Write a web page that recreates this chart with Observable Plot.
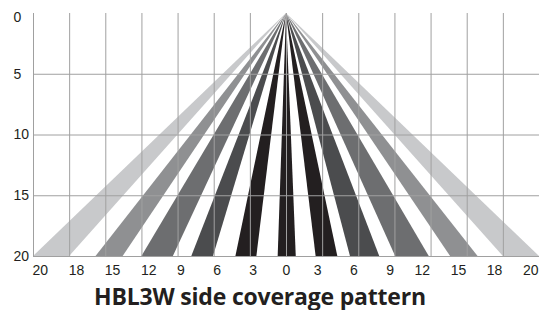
<!DOCTYPE html>
<html>
<head>
<meta charset="utf-8">
<script src="https://cdn.jsdelivr.net/npm/d3@7"></script>
<script src="https://cdn.jsdelivr.net/npm/@observablehq/plot@0.6"></script>
<style>
  html, body { margin: 0; padding: 0; background: #fff; }
  #wrap { width: 539px; }
  #title { font-family: "Open Sans", Roboto, sans-serif; font-weight: 700; font-size: 23px; line-height: 27px; color: #231f20; text-align: center; padding-right: 19px; margin-top: 3px; letter-spacing: -0.2px; }
</style>
</head>
<body>
<div id="wrap">
  <div id="chart"></div>
  <div id="title">HBL3W side coverage pattern</div>
</div>
<script>
// Tick positions (grid index) and their printed labels
const xTickPositions = [-7, -6, -5, -4, -3, -2, -1, 0, 1, 2, 3, 4, 5, 6, 7];
const xTickLabels = ["20", "18", "15", "12", "9", "6", "3", "0", "3", "6", "9", "12", "15", "18", "20"];
const yTicks = [0, 5, 10, 15, 20];

// Coverage wedges: apex at (0, 0), spreading to these edges at distance 20
const wedgeLeft  = [-7.0, -5.27, -4.0, -2.62, -1.4, -0.23, 0.82, 1.77, 3.02, 4.54, 6.0];
const wedgeRight = [-6.0, -4.52, -3.13, -2.02, -0.82, 0.27, 1.42, 2.58, 3.95, 5.3, 7.0];
const wedgeTier  = [5, 4, 3, 2, 1, 1, 1, 2, 3, 4, 5];
const apexDepth = 0;
const farDepth = 20;

const wedgePoints = [];
wedgeLeft.forEach((l, i) => {
  wedgePoints.push({id: i, tier: wedgeTier[i], y: apexDepth, x1: 0, x2: 0});
  wedgePoints.push({id: i, tier: wedgeTier[i], y: farDepth, x1: l, x2: wedgeRight[i]});
});

const labelOf = d => xTickLabels[xTickPositions.indexOf(d)];
const leftTicks = xTickPositions.filter(d => d < 0);
const rightTicks = xTickPositions.filter(d => d > 0);
const centerTicks = xTickPositions.filter(d => d === 0);

const plot = Plot.plot({
  width: 539,
  height: 280,
  marginLeft: 33,
  marginRight: 0,
  marginTop: 13,
  marginBottom: 24,
  style: {fontFamily: "'Liberation Sans', Arial, sans-serif", fontSize: "14px", color: "#231f20", background: "#fff"},
  x: {domain: [-7, 7], label: null},
  y: {domain: [0, 20], reverse: true, label: null},
  color: {type: "ordinal", domain: [1, 2, 3, 4, 5], range: ["#231f20", "#4b4c4e", "#6d6e70", "#8f9092", "#c8c9cb"]},
  marks: [
    Plot.areaX(wedgePoints, {y: "y", x1: "x1", x2: "x2", z: "id", fill: "tier"}),
    Plot.gridX(xTickPositions, {stroke: "#a0a0a0", strokeOpacity: 1, strokeWidth: 1}),
    Plot.gridY([5, 10, 15, 20], {stroke: "#a0a0a0", strokeOpacity: 1, strokeWidth: 1}),
    Plot.axisX({ticks: leftTicks, tickFormat: labelOf, tickSize: 0, tickPadding: 9, textAnchor: "start", dx: -1, label: null}),
    Plot.axisX({ticks: centerTicks, tickFormat: labelOf, tickSize: 0, tickPadding: 9, textAnchor: "middle", label: null}),
    Plot.axisX({ticks: rightTicks, tickFormat: labelOf, tickSize: 0, tickPadding: 9, textAnchor: "end", dx: -1, label: null}),
    Plot.axisY({ticks: yTicks.filter(d => d > 0), tickSize: 0, tickPadding: 0, textAnchor: "start", dx: -20, label: null}),
    Plot.axisY({ticks: yTicks.filter(d => d === 0), tickSize: 0, tickPadding: 0, textAnchor: "start", dx: -20, dy: 4.5, label: null})
  ]
});
document.getElementById("chart").appendChild(plot);
</script>
</body>
</html>
